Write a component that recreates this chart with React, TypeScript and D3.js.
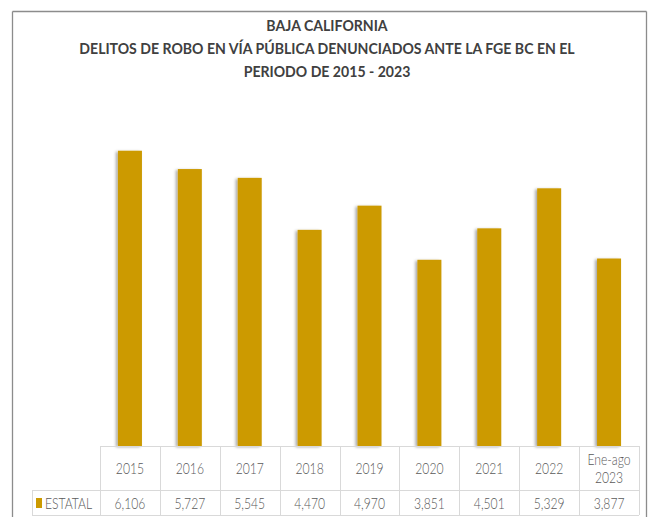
import React, { useEffect, useRef } from 'react';
import * as d3 from 'd3';

const categories = ['2015', '2016', '2017', '2018', '2019', '2020', '2021', '2022', 'Ene-ago\n2023'];
const estatal = [6106, 5727, 5545, 4470, 4970, 3851, 4501, 5329, 3877];
const seriesName = 'ESTATAL';
const titleLines = [
  'BAJA CALIFORNIA',
  'DELITOS DE ROBO EN VÍA PÚBLICA DENUNCIADOS ANTE LA FGE BC EN EL',
  'PERIODO DE 2015 - 2023',
];

const App = () => {
  const svgRef = useRef<SVGSVGElement>(null);

  useEffect(() => {
    if (!svgRef.current) return;
    const svg = d3.select(svgRef.current);
    svg.selectAll('*').remove();

    const W = 650;
    const H = 517;
    const tableLeft = 100;
    const tableRight = 639;
    const baseY = 446;
    const rowMid = 490;
    const rowBottom = 515;
    const barColor = '#cc9a00';
    const lineColor = '#d9d9d9';
    const textColor = '#595959';

    svg.append('rect').attr('width', W).attr('height', H).attr('fill', '#fff');

    // outer frame
    const frame = svg.append('g').attr('stroke', '#8c8c8c').attr('stroke-width', 1.3);
    frame.append('line').attr('x1', 12.5).attr('x2', 646.5).attr('y1', 11.5).attr('y2', 11.5);
    frame.append('line').attr('x1', 12.5).attr('x2', 12.5).attr('y1', 11.5).attr('y2', H);
    frame.append('line').attr('x1', 646.5).attr('x2', 646.5).attr('y1', 11.5).attr('y2', H);

    // title
    const title = svg.append('text')
      .attr('text-anchor', 'middle')
      .attr('fill', '#404040')
      .attr('transform', 'translate(327,0) scale(0.94,1)')
      .style('font-family', 'Lato, sans-serif')
      .style('font-weight', 700)
      .style('font-size', '15px');
    titleLines.forEach((t, i) => {
      title.append('tspan').attr('x', 0).attr('y', 31 + i * 23).text(t);
    });

    const x = d3.scaleBand()
      .domain(categories)
      .range([tableLeft, tableRight]);

    const y = d3.scaleLinear()
      .domain([0, 7000])
      .range([baseY, 107.5]);

    const defs = svg.append('defs');
    const f = defs.append('filter').attr('id', 'shadow')
      .attr('x', '-30%').attr('y', '-10%').attr('width', '160%').attr('height', '120%');
    f.append('feDropShadow')
      .attr('dx', -2).attr('dy', 1).attr('stdDeviation', 1.5)
      .attr('flood-color', '#000').attr('flood-opacity', 0.35);

    const barW = 24;
    svg.append('g').selectAll('rect')
      .data(estatal)
      .join('rect')
      .attr('x', (d, i) => x(categories[i])! + x.bandwidth() / 2 - barW / 2)
      .attr('y', d => y(d))
      .attr('width', barW)
      .attr('height', d => baseY - y(d))
      .attr('fill', barColor)
      .attr('filter', 'url(#shadow)');

    // data table
    const grid = svg.append('g').attr('stroke', lineColor).attr('stroke-width', 1);
    grid.append('line').attr('x1', tableLeft).attr('x2', tableRight).attr('y1', baseY + 0.5).attr('y2', baseY + 0.5);
    grid.append('line').attr('x1', 32).attr('x2', tableRight).attr('y1', rowMid + 0.5).attr('y2', rowMid + 0.5);
    grid.append('line').attr('x1', 32).attr('x2', tableRight).attr('y1', rowBottom + 0.5).attr('y2', rowBottom + 0.5);
    grid.append('line').attr('x1', 32.5).attr('x2', 32.5).attr('y1', rowMid).attr('y2', rowBottom);
    const edges = [...categories.map(c => x(c)!), tableRight];
    edges.forEach(e => {
      grid.append('line').attr('x1', Math.round(e) + 0.5).attr('x2', Math.round(e) + 0.5)
        .attr('y1', baseY).attr('y2', rowBottom);
    });

    const txt = svg.append('g')
      .attr('fill', textColor)
      .attr('text-anchor', 'middle')
      .style('font-family', 'Lato, sans-serif')
      .style('font-weight', 300)
      .style('font-size', '16px');

    const put = (tx: number, ty: number, s: string, anchor = 'middle') =>
      txt.append('text')
        .attr('transform', `translate(${tx},${ty}) scale(0.76,1)`)
        .attr('text-anchor', anchor)
        .text(s);

    categories.forEach(c => {
      const parts = c.split('\n');
      const cx = x(c)! + x.bandwidth() / 2;
      if (parts.length === 1) put(cx, 474, parts[0]);
      else parts.forEach((p, i) => put(cx, 465 + i * 18, p));
    });

    estatal.forEach((v, i) => {
      put(x(categories[i])! + x.bandwidth() / 2, 509, d3.format(',')(v));
    });

    svg.append('rect').attr('x', 36).attr('y', 498).attr('width', 6).attr('height', 10).attr('fill', barColor);
    put(45, 509, seriesName, 'start');
  }, []);

  return (
    <div style={{ position: 'absolute', left: 0, top: 0 }}>
      <svg ref={svgRef} width={650} height={517} style={{ display: 'block' }}></svg>
    </div>
  );
};

export default App;
